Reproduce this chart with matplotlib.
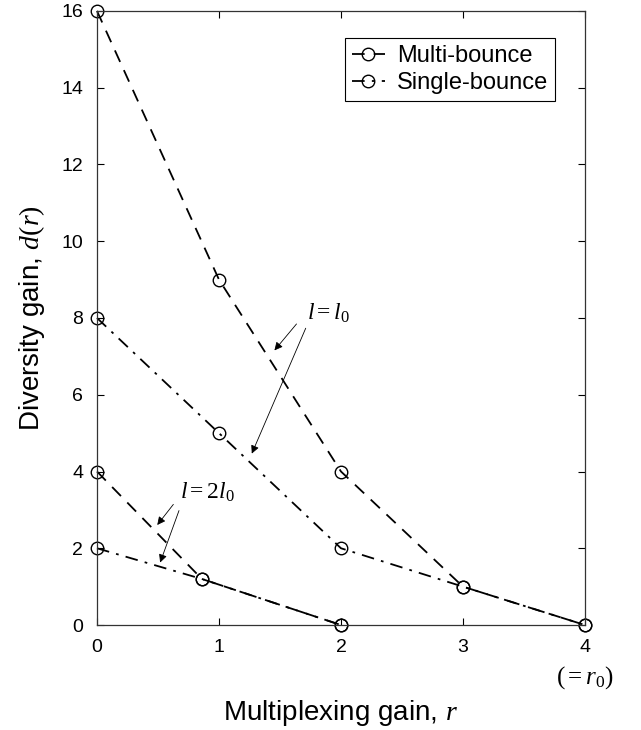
import matplotlib
matplotlib.use('Agg')
import matplotlib.pyplot as plt

plt.rcParams['font.family'] = ['Liberation Sans', 'DejaVu Sans']
plt.rcParams['mathtext.fontset'] = 'custom'
plt.rcParams['mathtext.it'] = 'Liberation Serif:italic'
plt.rcParams['mathtext.rm'] = 'Liberation Serif'

# ---- data ----
r_l0 = [0, 1, 2, 3, 4]
multi_l0 = [16, 9, 4, 1, 0]
single_l0 = [8, 5, 2, 1, 0]

r_2l0 = [0, 0.86, 2]
multi_2l0 = [4, 1.2, 0]
single_2l0 = [2, 1.2, 0]

xticks = [0, 1, 2, 3, 4]
yticks = [0, 2, 4, 6, 8, 10, 12, 14, 16]

fig = plt.figure(figsize=(6.41, 7.30), dpi=100)
ax = fig.add_axes([0.1513, 0.1438, 0.7613, 0.8412])

dash = (0, (7, 5))
dashdot = (0, (7, 4, 1.5, 4))
style = dict(color='black', lw=1.3, marker='o', ms=9, mfc='none',
             mew=1.0, clip_on=False)

ax.plot(r_l0, multi_l0, linestyle=dash, label='Multi-bounce', **style)
ax.plot(r_l0, single_l0, linestyle=dashdot, label='Single-bounce', **style)
ax.plot(r_2l0, multi_2l0, linestyle=dash, **style)
ax.plot(r_2l0, single_2l0, linestyle=dashdot, **style)

ax.set_xlim(0, 4)
ax.set_ylim(0, 16)
ax.set_xticks(xticks)
ax.set_yticks(yticks)
ax.tick_params(direction='in', top=True, right=True, labelsize=14,
               length=5, width=0.8)
ax.tick_params(axis='x', pad=10)
ax.tick_params(axis='y', pad=10)
for s in ax.spines.values():
    s.set_linewidth(0.9)
    s.set_color('#333333')

ax.set_xlabel('Multiplexing gain, $r$', fontsize=20, labelpad=30)
ax.set_ylabel('Diversity gain, $d(r)$', fontsize=20, labelpad=10)

ax.text(4, -1.36, '$(=r_0)$', fontsize=18, ha='center', va='center',
        clip_on=False)

# annotations
arw = dict(arrowstyle='-|>', color='black', lw=0.6, mutation_scale=12)
ax.text(1.72, 8.13, '$l = l_0$', fontsize=17, ha='left', va='center')
ax.annotate('', xy=(1.44, 7.1), xytext=(1.65, 7.9), arrowprops=arw)
ax.annotate('', xy=(1.26, 4.4), xytext=(1.72, 7.8), arrowprops=arw)

ax.text(0.68, 3.46, '$l = 2l_0$', fontsize=17, ha='left', va='center')
ax.annotate('', xy=(0.48, 2.55), xytext=(0.64, 3.2), arrowprops=arw)
ax.annotate('', xy=(0.51, 1.56), xytext=(0.68, 3.05), arrowprops=arw)

leg = ax.legend(loc='upper right', bbox_to_anchor=(0.9385, 0.956),
                fontsize=17, handlelength=1.4, handletextpad=0.5,
                borderpad=0.3, labelspacing=0.2, borderaxespad=0,
                fancybox=False, framealpha=1, edgecolor='black')
leg.get_frame().set_linewidth(0.8)

fig.savefig('out.png', dpi=100)
